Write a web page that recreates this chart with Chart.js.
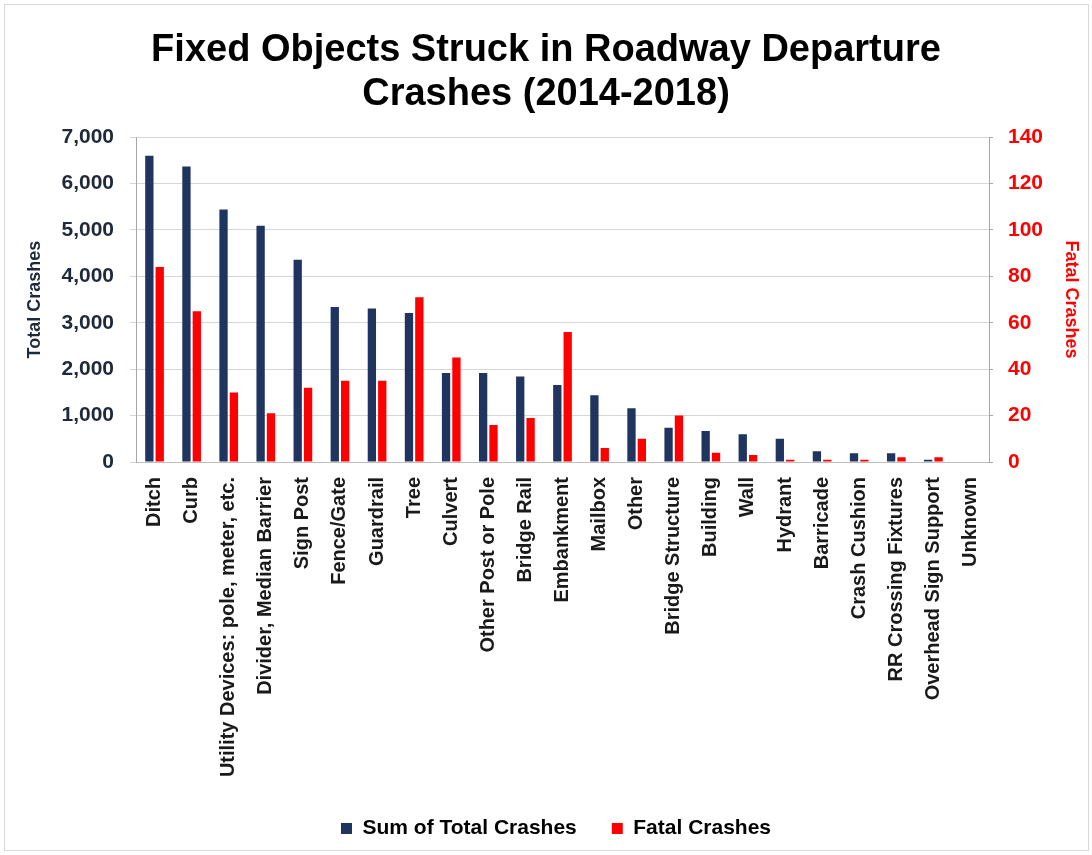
<!DOCTYPE html>
<html>
<head>
<meta charset="utf-8">
<script src="https://cdn.jsdelivr.net/npm/chart.js@4.4.0/dist/chart.umd.min.js"></script>
<style>
  html, body { margin: 0; padding: 0; background: #fff; }
  #wrap { position: relative; width: 1092px; height: 855px; }
</style>
</head>
<body>
<div id="wrap"><canvas id="chart" width="1092" height="855"></canvas></div>
<script>
// values
const categories = [
    "Ditch", "Curb", "Utility Devices: pole, meter, etc.", "Divider, Median Barrier",
    "Sign Post", "Fence/Gate", "Guardrail", "Tree", "Culvert", "Other Post or Pole",
    "Bridge Rail", "Embankment", "Mailbox", "Other", "Bridge Structure", "Building",
    "Wall", "Hydrant", "Barricade", "Crash Cushion", "RR Crossing Fixtures",
    "Overhead Sign Support", "Unknown"
];
const totalCrashes = [6600, 6370, 5440, 5090, 4360, 3340, 3310, 3210, 1920, 1920, 1840, 1660,
    1440, 1160, 740, 670, 600, 500, 230, 190, 190, 50, 0];
const fatalCrashes = [84, 65, 30, 21, 32, 35, 35, 71, 45, 16, 19, 56,
    6, 10, 20, 4, 3, 1, 1, 1, 2, 2, 0];
const leftTicks = [0, 1000, 2000, 3000, 4000, 5000, 6000, 7000];
const rightTicks = [0, 20, 40, 60, 80, 100, 120, 140];

const FONT = "'Liberation Sans', Arial, sans-serif";
const NAVY = "#1f3560";
const RED = "#ff0000";

const frame = {
    id: "frame",
    beforeDraw(chart) {
        const ctx = chart.ctx;
        ctx.save();
        ctx.fillStyle = "#fff";
        ctx.fillRect(0, 0, chart.width, chart.height);
        ctx.strokeStyle = "#d9d9d9";
        ctx.lineWidth = 1;
        ctx.strokeRect(4.5, 4.5, chart.width - 8, chart.height - 9);
        ctx.restore();
    },
    afterLayout(chart) {
        // legend in the original sits a little right of centre
        chart.legend.left += 20;
    }
};

const ctx = document.getElementById("chart").getContext("2d");
new Chart(ctx, {
    type: "bar",
    data: {
        labels: categories,
        datasets: [
            { label: "Sum of Total Crashes", data: totalCrashes, backgroundColor: NAVY, yAxisID: "y" },
            { label: "Fatal Crashes", data: fatalCrashes, backgroundColor: RED, yAxisID: "y1" }
        ]
    },
    options: {
        responsive: false,
        animation: false,
        categoryPercentage: 0.56,
        barPercentage: 0.8,
        layout: { padding: { left: 8, right: 8, top: 6, bottom: 16 } },
        plugins: {
            title: {
                display: true,
                text: ["Fixed Objects Struck in Roadway Departure", "Crashes (2014-2018)"],
                color: "#000",
                font: { family: FONT, size: 38, weight: "bold", lineHeight: 1.16 },
                padding: { top: 22, bottom: 21 }
            },
            legend: {
                position: "bottom",
                maxHeight: 56,
                labels: {
                    color: "#000",
                    font: { family: FONT, size: 21, weight: "bold" },
                    boxWidth: 11,
                    boxHeight: 11,
                    padding: 35
                }
            },
            tooltip: { enabled: false }
        },
        scales: {
            x: {
                grid: { display: false, drawTicks: false },
                border: { display: true, color: "#bfbfbf" },
                ticks: {
                    color: "#1a1a1a",
                    font: { family: FONT, size: 20, weight: "bold" },
                    maxRotation: 90,
                    minRotation: 90,
                    autoSkip: false,
                    padding: 15
                },
                afterFit(scale) { scale.height = 321; }
            },
            y: {
                position: "left",
                min: 0,
                max: 7000,
                afterBuildTicks(scale) { scale.ticks = leftTicks.map(v => ({ value: v })); },
                grid: { color: "#d6d6d6", tickLength: 6 },
                border: { display: true, color: "#a6a6a6" },
                ticks: {
                    color: "#1e2a3c",
                    font: { family: FONT, size: 21, weight: "bold" },
                    padding: 16,
                    callback: v => v.toLocaleString("en-US")
                },
                title: {
                    display: true,
                    text: "Total Crashes",
                    color: "#1e2a3c",
                    font: { family: FONT, size: 18, weight: "bold" },
                    padding: { top: 16 }
                },
                afterFit(scale) { scale.width = 128; }
            },
            y1: {
                position: "right",
                min: 0,
                max: 140,
                afterBuildTicks(scale) { scale.ticks = rightTicks.map(v => ({ value: v })); },
                grid: { drawOnChartArea: false, color: "#a6a6a6", tickLength: 4 },
                border: { display: true, color: "#a6a6a6" },
                ticks: {
                    color: RED,
                    font: { family: FONT, size: 21, weight: "bold" },
                    padding: 15
                },
                title: {
                    display: true,
                    text: "Fatal Crashes",
                    color: RED,
                    font: { family: FONT, size: 18, weight: "bold" },
                    padding: { top: 2 }
                },
                afterFit(scale) { scale.width = 95; }
            }
        }
    },
    plugins: [frame]
});
</script>
</body>
</html>
